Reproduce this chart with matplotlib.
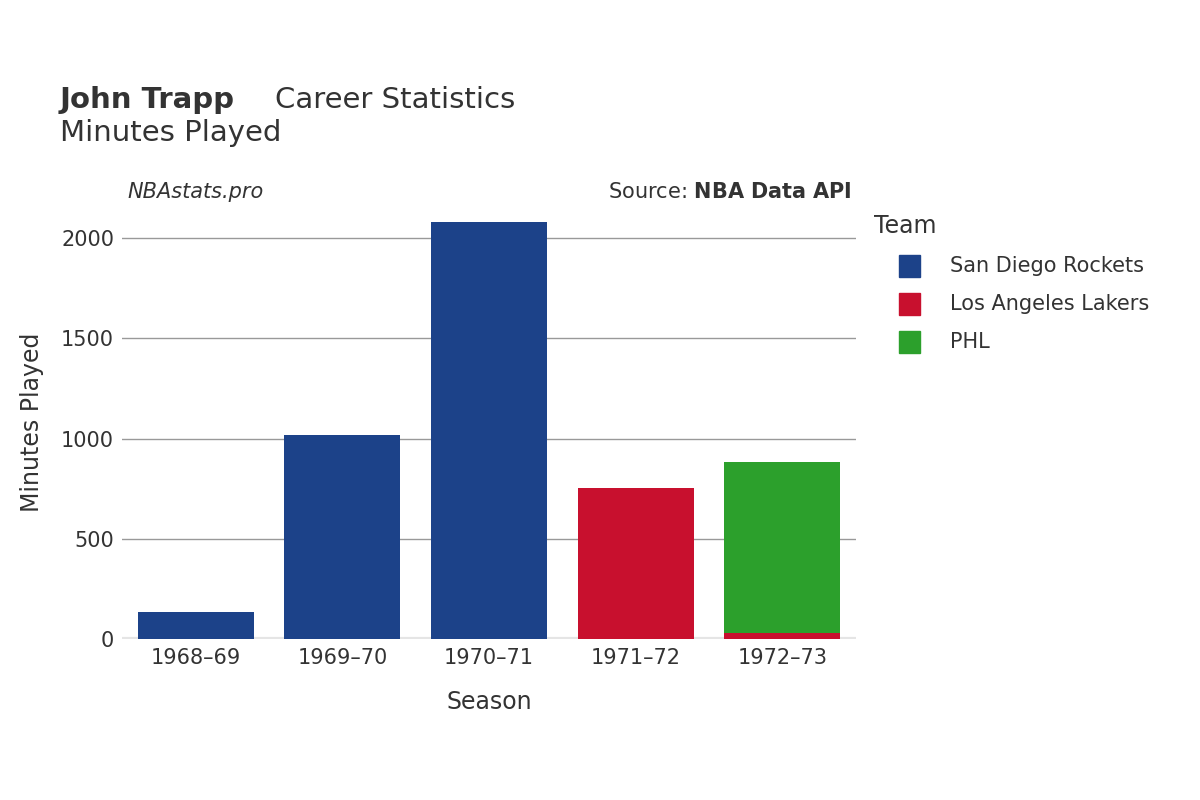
import matplotlib.pyplot as plt
import numpy as np

seasons = ["1968–69", "1969–70", "1970–71", "1971–72", "1972–73"]
teams = ["San Diego Rockets", "Los Angeles Lakers", "PHL"]
colors = ["#1c4289", "#c8102e", "#2ca02c"]
minutes = {
    "San Diego Rockets": [135, 1017, 2080, 0, 0],
    "Los Angeles Lakers": [0, 0, 0, 753, 30],
    "PHL": [0, 0, 0, 0, 853],
}
yticks = [0, 500, 1000, 1500, 2000]

plt.rcParams["font.family"] = "DejaVu Sans"
fig = plt.figure(figsize=(12, 8), dpi=100)
ax = fig.add_axes([0.102, 0.201, 0.611, 0.5415])

x = np.arange(len(seasons))
bottom = np.zeros(len(seasons))
for team, color in zip(teams, colors):
    vals = np.array(minutes[team], dtype=float)
    ax.bar(x, vals, bottom=bottom, width=0.79, color=color, zorder=3)
    bottom += vals

ax.set_xlim(-0.5, len(seasons) - 0.5)
ax.set_ylim(0, 2160)
ax.set_yticks(yticks)
ax.set_yticklabels([str(t) for t in yticks], fontsize=15, color="#333333")
ax.set_xticks(x)
ax.set_xticklabels(seasons, fontsize=15, color="#333333")
ax.tick_params(length=0, pad=6)
ax.grid(axis="y", color="#999999", linewidth=1, zorder=0)
for s in ax.spines.values():
    s.set_visible(False)
ax.axhline(0, color="#e5e5e5", linewidth=3, zorder=2)
ax.set_xlabel("Season", fontsize=17, color="#333333", labelpad=16)
ax.set_ylabel("Minutes Played", fontsize=17, color="#333333", labelpad=12)

fig.text(0.05, 0.875, "John Trapp", fontsize=21, fontweight="bold", color="#333333", va="center")
fig.text(0.229, 0.875, "Career Statistics", fontsize=21, color="#333333", va="center")
fig.text(0.05, 0.834, "Minutes Played", fontsize=21, color="#333333", va="center")
fig.text(0.106, 0.76, "NBAstats.pro", fontsize=15, style="italic", color="#333333", va="center")
fig.text(0.71, 0.76, "Source: $\\bf{NBA\\ Data\\ API}$", fontsize=15, color="#333333", va="center", ha="right")

fig.text(0.728, 0.717, "Team", fontsize=17, color="#333333", va="center")
for i, (team, color) in enumerate(zip(teams, colors)):
    yy = 0.667 - i * 0.0475
    fig.patches.append(plt.Rectangle((0.749, yy - 0.013), 0.018, 0.027, transform=fig.transFigure,
                                     color=color, figure=fig))
    fig.text(0.792, yy, team, fontsize=15, color="#333333", va="center")

fig.savefig("out.png", dpi=100)
